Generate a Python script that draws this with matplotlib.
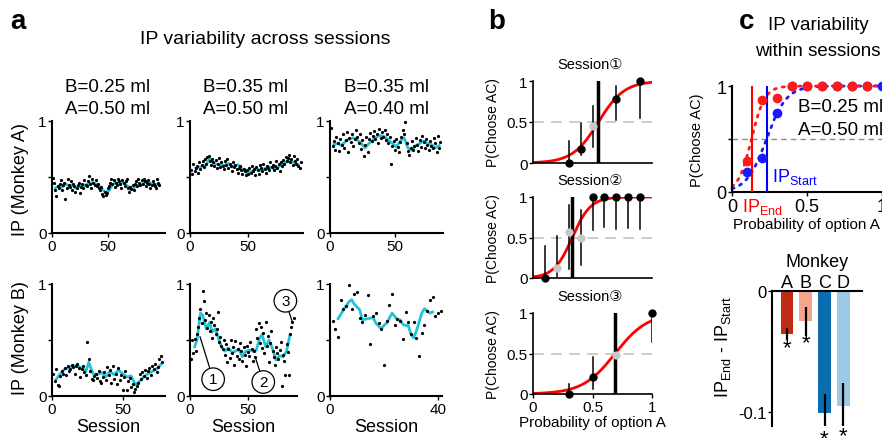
import numpy as np
import matplotlib
matplotlib.use('Agg')
import matplotlib.pyplot as plt

plt.rcParams['font.family'] = ['Liberation Sans', 'DejaVu Sans']
plt.rcParams['mathtext.fontset'] = 'custom'
plt.rcParams['mathtext.rm'] = 'Liberation Sans'
plt.rcParams['mathtext.it'] = 'Liberation Sans:italic'

W, H = 882, 439
CYAN = '#1fc4d8'

# ---------------- panel a: IP per session ----------------
a1_ip = [0.49, 0.45, 0.38, 0.33, 0.42, 0.40, 0.44, 0.47, 0.38, 0.43,
         0.45, 0.30, 0.40, 0.48, 0.43, 0.41, 0.46, 0.38, 0.44, 0.42,
         0.37, 0.40, 0.43, 0.45, 0.36, 0.41, 0.44, 0.40, 0.47, 0.43,
         0.42, 0.46, 0.51, 0.44, 0.40, 0.48, 0.45, 0.43, 0.47, 0.42,
         0.44, 0.40, 0.38, 0.41, 0.35, 0.33, 0.37, 0.34, 0.36, 0.40,
         0.42, 0.45, 0.48, 0.44, 0.47, 0.41, 0.45, 0.43, 0.48, 0.46,
         0.44, 0.40, 0.47, 0.45, 0.42, 0.46, 0.48, 0.40, 0.37, 0.41,
         0.39, 0.43, 0.38, 0.44, 0.46, 0.42, 0.48, 0.45, 0.43, 0.47,
         0.44, 0.48, 0.46, 0.42, 0.45, 0.47, 0.44, 0.40, 0.43, 0.46,
         0.44, 0.42, 0.40, 0.48, 0.45, 0.43]
a1_avg_s = [3, 6, 9, 12, 15, 18, 21, 24, 27, 30, 33, 36, 39, 42, 45, 48,
            51, 54, 57, 60, 63, 66, 69, 72, 75, 78, 81, 84, 87, 90, 93, 96]
a1_avg_v = [0.40, 0.42, 0.41, 0.44, 0.42, 0.43, 0.40, 0.42, 0.41, 0.43, 0.44,
            0.45, 0.44, 0.42, 0.39, 0.36, 0.38, 0.43, 0.45, 0.44, 0.45, 0.43,
            0.41, 0.39, 0.42, 0.43, 0.44, 0.46, 0.45, 0.44, 0.43, 0.43]

a2_ip = [0.56, 0.53, 0.62, 0.55, 0.58, 0.60, 0.54, 0.63, 0.57, 0.61,
         0.64, 0.59, 0.66, 0.62, 0.68, 0.69, 0.64, 0.61, 0.66, 0.63,
         0.60, 0.65, 0.58, 0.62, 0.67, 0.59, 0.63, 0.60, 0.57, 0.64,
         0.61, 0.66, 0.58, 0.62, 0.60, 0.55, 0.63, 0.59, 0.61, 0.57,
         0.54, 0.58, 0.60, 0.56, 0.53, 0.57, 0.55, 0.52, 0.56, 0.53,
         0.58, 0.54, 0.60, 0.55, 0.57, 0.52, 0.59, 0.56, 0.53, 0.61,
         0.58, 0.55, 0.62, 0.57, 0.54, 0.60, 0.58, 0.56, 0.63, 0.59,
         0.61, 0.56, 0.60, 0.64, 0.58, 0.62, 0.55, 0.63, 0.60, 0.65,
         0.62, 0.68, 0.64, 0.67, 0.70, 0.63, 0.66, 0.61, 0.69, 0.64,
         0.62, 0.66, 0.60, 0.58, 0.63]
a2_avg_s = [5, 9, 13, 17, 21, 25, 29, 33, 37, 41, 45, 49,
            53, 57, 61, 65, 69, 73, 77, 81, 85, 89, 93]
a2_avg_v = [0.58, 0.59, 0.60, 0.66, 0.62, 0.61, 0.60, 0.62, 0.59, 0.61, 0.57,
            0.54, 0.55, 0.57, 0.56, 0.58, 0.59, 0.57, 0.60, 0.62, 0.66, 0.63, 0.61]

a3_ip = [0.94, 0.78, 0.82, 0.74, 0.86, 0.80, 0.73, 0.84, 0.79, 0.88,
         0.76, 0.83, 0.90, 0.72, 0.85, 0.81, 0.88, 0.78, 0.84, 0.92,
         0.86, 0.80, 0.88, 0.75, 0.83, 0.69, 0.79, 0.86, 0.72, 0.84,
         0.89, 0.82, 0.87, 0.91, 0.84, 0.88, 0.80, 0.93, 0.85, 0.90,
         0.86, 0.92, 0.83, 0.88, 0.80, 0.86, 0.62, 0.78, 0.82, 0.74,
         0.84, 0.77, 0.72, 0.81, 0.86, 0.92, 0.88, 0.99, 0.80, 0.73,
         0.70, 0.76, 0.82, 0.74, 0.78, 0.85, 0.79, 0.73, 0.83, 0.77,
         0.87, 0.81, 0.76, 0.84, 0.79, 0.74, 0.82, 0.78, 0.76, 0.85,
         0.80, 0.72, 0.87, 0.76, 0.81]
a3_avg_s = [3, 6, 9, 12, 15, 18, 21, 24, 27, 30, 33, 36, 39, 42,
            45, 48, 51, 54, 57, 60, 63, 66, 69, 72, 75, 78, 81, 84]
a3_avg_v = [0.79, 0.80, 0.78, 0.82, 0.84, 0.85, 0.83, 0.80, 0.76, 0.80, 0.83,
            0.86, 0.87, 0.86, 0.83, 0.80, 0.77, 0.82, 0.85, 0.76, 0.74, 0.78,
            0.80, 0.82, 0.80, 0.79, 0.76, 0.78]

b1_ip = [0.20, 0.13, 0.24, 0.10, 0.09, 0.18, 0.22, 0.20, 0.25, 0.19,
         0.27, 0.22, 0.24, 0.28, 0.26, 0.20, 0.27, 0.29, 0.25, 0.17,
         0.24, 0.27, 0.21, 0.19, 0.48, 0.33, 0.22, 0.15, 0.14, 0.18,
         0.20, 0.16, 0.22, 0.13, 0.12, 0.17, 0.21, 0.14, 0.26, 0.19,
         0.23, 0.12, 0.27, 0.15, 0.20, 0.11, 0.25, 0.14, 0.19, 0.05,
         0.17, 0.22, 0.05, 0.13, 0.16, 0.08, 0.11, 0.04, 0.06, 0.09,
         0.12, 0.20, 0.15, 0.21, 0.18, 0.23, 0.16, 0.22, 0.25, 0.19,
         0.27, 0.24, 0.29, 0.21, 0.26, 0.33, 0.36, 0.30]
b1_avg_s = [3, 6, 9, 12, 15, 18, 21, 24, 26, 29, 32, 35, 38,
            41, 44, 47, 50, 53, 56, 59, 62, 65, 68, 71, 74, 77]
b1_avg_v = [0.15, 0.20, 0.24, 0.25, 0.27, 0.27, 0.25, 0.22, 0.30, 0.20, 0.19,
            0.21, 0.17, 0.22, 0.19, 0.23, 0.20, 0.17, 0.18, 0.10, 0.13, 0.17,
            0.20, 0.22, 0.24, 0.28]

b2_ip = [0.33, 0.50, 0.38, 0.51, 0.40, 0.55, 0.62, 0.70, 0.78, 0.65,
         0.94, 0.85, 0.68, 0.74, 0.61, 0.72, 0.58, 0.66, 0.52, 0.70,
         0.63, 0.55, 0.60, 0.75, 0.48, 0.53, 0.45, 0.42, 0.50, 0.37,
         0.46, 0.30, 0.42, 0.34, 0.50, 0.38, 0.44, 0.28, 0.49, 0.36,
         0.42, 0.33, 0.47, 0.40, 0.31, 0.44, 0.37, 0.27, 0.45, 0.39,
         0.36, 0.48, 0.42, 0.31, 0.40, 0.35, 0.60, 0.52, 0.65, 0.47,
         0.62, 0.43, 0.56, 0.38, 0.66, 0.45, 0.54, 0.30, 0.47, 0.58,
         0.40, 0.35, 0.28, 0.44, 0.38, 0.33, 0.41, 0.48, 0.09, 0.37,
         0.31, 0.19, 0.46, 0.39, 0.19, 0.55, 0.62, 0.66, 0.70]
b2_avg_s = [4, 6, 9, 11, 14, 17, 19, 22, 25, 27, 30, 33, 36, 39, 42,
            45, 48, 51, 54, 57, 60, 62, 65, 68, 71, 74, 77, 80, 83, 86]
b2_avg_v = [0.44, 0.50, 0.74, 0.72, 0.60, 0.66, 0.57, 0.60, 0.50, 0.44, 0.40,
            0.43, 0.39, 0.40, 0.42, 0.35, 0.40, 0.41, 0.40, 0.41, 0.52, 0.55,
            0.44, 0.50, 0.42, 0.32, 0.36, 0.35, 0.40, 0.55]

b3_ip = [0.67, 0.60, 0.53, 0.86, 0.78, 0.80, 0.99, 0.78, 0.91, 0.93,
         0.70, 0.66, 0.72, 0.90, 0.46, 0.71, 0.74, 0.65, 0.60, 0.28,
         0.67, 0.81, 0.91, 0.63, 0.69, 0.67, 0.51, 0.75, 0.66, 0.55,
         0.66, 0.52, 0.36, 0.56, 0.63, 0.76, 0.86, 0.88, 0.71, 0.74, 0.76]
b3_avg_s = [3, 5, 7, 8, 9, 11, 12, 14, 16, 17, 19, 20, 21, 23,
            24, 25, 26, 27, 28, 29, 30, 31, 32, 33, 34, 35, 36, 37, 38]
b3_avg_v = [0.69, 0.77, 0.84, 0.86, 0.82, 0.77, 0.68, 0.69, 0.70, 0.65, 0.60,
            0.63, 0.65, 0.74, 0.71, 0.68, 0.68, 0.64, 0.63, 0.63, 0.55, 0.52,
            0.58, 0.66, 0.74, 0.78, 0.76, 0.74, 0.75]

# ---------------- panel b: psychometric curves ----------------
pb_x = [[0.3, 0.4, 0.5, 0.7, 0.9],
        [0.1, 0.2, 0.3, 0.4, 0.5, 0.6, 0.7, 0.8, 0.9],
        [0.3, 0.5, 0.7, 1.0]]
pb_y = [[0.0, 0.17, 0.45, 0.78, 1.0],
        [0.0, 0.12, 0.57, 0.50, 1.0, 1.0, 1.0, 1.0, 1.0],
        [0.0, 0.21, 0.48, 1.0]]
pb_lo = [[0.0, 0.10, 0.20, 0.52, 0.55],
         [0.0, 0.0, 0.11, 0.16, 0.59, 0.63, 0.60, 0.62, 0.60],
         [0.0, 0.06, 0.25, 0.64]]
pb_hi = [[0.27, 0.49, 0.69, 0.94, 1.0],
         [0.40, 0.52, 0.90, 0.84, 1.0, 1.0, 1.0, 1.0, 1.0],
         [0.12, 0.46, 0.72, 1.0]]
pb_gray = [[0, 0, 1, 0, 0],
           [0, 1, 1, 1, 0, 0, 0, 0, 0],
           [0, 0, 1, 0]]
pb_ip = [0.55, 0.33, 0.69]
pb_slope = [9.2, 13.0, 7.3]
pb_titles = ['Session\u2460', 'Session\u2461', 'Session\u2462']

# ---------------- panel c ----------------
c_x_end = [0.1, 0.2, 0.3, 0.4, 0.5, 0.6, 0.7, 0.8, 0.9]
c_y_end = [0.29, 0.87, 0.89, 1.0, 1.0, 1.0, 1.0, 1.0, 1.0]
c_x_start = [0.1, 0.2, 0.3, 0.4, 0.5, 0.6, 0.7, 0.8, 0.9, 1.0]
c_y_start = [0.19, 0.32, 0.75, 1.0, 1.0, 1.0, 1.0, 1.0, 1.0, 1.0]
ip_end, slope_end = 0.13, 22.6
ip_start, slope_start = 0.23, 15.0

monkeys = ['A', 'B', 'C', 'D']
ip_shift = [-0.036, -0.025, -0.101, -0.095]
ip_shift_err = [0.005, 0.012, 0.0155, 0.019]
bar_colors = ['#bf2b14', '#f3a68a', '#0c6cb0', '#9ccae4']


def rect(x0, y0, x1, y1):
    return [x0 / W, 1 - y1 / H, (x1 - x0) / W, (y1 - y0) / H]


def ftext(x, y, s, **kw):
    kw.setdefault('ha', 'center')
    kw.setdefault('va', 'center')
    fig.text(x / W, 1 - y / H, s, **kw)


def clean(ax, lw=1.5):
    ax.spines['top'].set_visible(False)
    ax.spines['right'].set_visible(False)
    ax.spines['left'].set_linewidth(lw)
    ax.spines['bottom'].set_linewidth(lw)
    ax.patch.set_alpha(0)


def logistic(x, ip, k):
    return 1 / (1 + np.exp(-k * (x - ip)))


fig = plt.figure(figsize=(W / 100, H / 100), dpi=100)

# ---- panel a ----
a_panels = [
    (a1_ip, a1_avg_s, a1_avg_v, (52, 122, 165, 234), 101, 50),
    (a2_ip, a2_avg_s, a2_avg_v, (190, 122, 303, 234), 97, 50),
    (a3_ip, a3_avg_s, a3_avg_v, (330, 122, 443, 234), 87, 50),
    (b1_ip, b1_avg_s, b1_avg_v, (52, 285, 165, 397), 80, 50),
    (b2_ip, b2_avg_s, b2_avg_v, (190, 285, 297, 397), 92, 50),
    (b3_ip, b3_avg_s, b3_avg_v, (330, 285, 442, 397), 41.5, 40),
]
a_axes = []
for ip, avs, avv, box, xmax, xt in a_panels:
    ax = fig.add_axes(rect(*box))
    clean(ax)
    sess = np.arange(1, len(ip) + 1)
    ax.plot(sess, ip, 'o', ms=2.3, color='k', mec='none', zorder=3, clip_on=False)
    ax.plot(avs, avv, color=CYAN, lw=2, zorder=2)
    ax.set_xlim(0, xmax)
    ax.set_ylim(0, 1)
    ax.set_xticks([0, xt])
    ax.set_yticks([0, 0.5, 1])
    ax.set_yticklabels(['0', '', '1'])
    ax.tick_params(direction='out', length=3, width=1, labelsize=11, pad=1)
    a_axes.append(ax)

ftext(18, 22, 'a', fontsize=20, fontweight='bold')
ftext(265, 40, 'IP variability across sessions', fontsize=14)
for cx, b_txt, a_txt in [(108, 'B=0.25 ml', 'A=0.50 ml'),
                         (246, 'B=0.35 ml', 'A=0.50 ml'),
                         (386, 'B=0.35 ml', 'A=0.40 ml')]:
    ftext(cx, 88, b_txt, fontsize=13.5)
    ftext(cx, 110, a_txt, fontsize=13.5)
ftext(21, 180, 'IP (Monkey A)', fontsize=13, rotation=90)
ftext(21, 338, 'IP (Monkey B)', fontsize=13, rotation=90)
for cx in [108, 243, 386]:
    ftext(cx, 428, 'Session', fontsize=13)

# circled session markers
axm = a_axes[4]
circ = dict(boxstyle='circle,pad=0.28', fc='white', ec='k', lw=0.9)
for lab, txy, pxy in [('1', (19.9, 0.15), (8.6, 0.53)),
                      ('2', (63.0, 0.125), (56.0, 0.35)),
                      ('3', (82.0, 0.85), (88.0, 0.66))]:
    axm.annotate(lab, xy=pxy, xytext=txy, fontsize=11, ha='center', va='center',
                 bbox=circ, arrowprops=dict(arrowstyle='-', color='k', lw=0.9,
                                            shrinkA=0, shrinkB=0),
                 annotation_clip=False, zorder=5)

# ---- panel b ----
ftext(497, 22, 'b', fontsize=20, fontweight='bold')
b_boxes = [(533, 82, 652, 164), (533, 198, 652, 279), (533, 314, 652, 395)]
xs = np.linspace(0, 1, 200)
for i, box in enumerate(b_boxes):
    ax = fig.add_axes(rect(*box))
    clean(ax, lw=1.2)
    ax.plot([0, 1], [0.5, 0.5], color='#c8c8c8', lw=1.3, dashes=(6, 4), zorder=1)
    ax.plot(xs, logistic(xs, pb_ip[i], pb_slope[i]), color='#ff0000', lw=2, zorder=2)
    for x, y, lo, hi, g in zip(pb_x[i], pb_y[i], pb_lo[i], pb_hi[i], pb_gray[i]):
        ax.plot([x, x], [lo, hi], color='k', lw=1.1, zorder=3)
        ax.plot(x, y, 'o', ms=6, color='#c8c8c8' if g else 'k', mec='none',
                zorder=5, clip_on=False)
    ax.plot([pb_ip[i], pb_ip[i]], [0, 1], color='k', lw=2.5, zorder=4)
    ax.set_xlim(0, 1)
    ax.set_ylim(0, 1)
    ax.set_yticks([0, 0.5, 1])
    ax.set_yticklabels(['0', '0.5', '1'])
    if i < 2:
        ax.set_xticks([])
    else:
        ax.set_xticks([0, 0.5, 1])
        ax.set_xticklabels(['0', '0.5', '1'])
    ax.tick_params(direction='out', length=3, width=1, labelsize=11, pad=1)
    cy = (box[1] + box[3]) / 2
    ftext(493, cy, 'P(Choose AC)', fontsize=10, rotation=90)
    ftext(590, box[1] - 17, pb_titles[i], fontsize=10.5)
ftext(592, 423, 'Probability of option A', fontsize=11)

# ---- panel c, top ----
ftext(747, 22, 'c', fontsize=20, fontweight='bold')
ftext(818, 25, 'IP variability', fontsize=13.5)
ftext(818, 52, 'within sessions', fontsize=13.5)

ax = fig.add_axes(rect(732, 87, 882, 193))
clean(ax)
ax.plot([0, 1], [0.5, 0.5], color='#8c8c8c', lw=1, dashes=(4, 3), zorder=1)
ax.plot(xs, logistic(xs, ip_start, slope_start), color='#1a1aff', lw=2,
        linestyle=(0, (0.8, 2.2)), dash_capstyle='round', zorder=2, clip_on=False)
ax.plot(xs, logistic(xs, ip_end, slope_end), color='#ff1a1a', lw=2,
        linestyle=(0, (0.8, 2.2)), dash_capstyle='round', zorder=2, clip_on=False)
ax.plot([ip_end, ip_end], [0, 1], color='#ff0000', lw=1.5, zorder=3)
ax.plot([ip_start, ip_start], [0, 1], color='#0000ff', lw=1.5, zorder=3)
ax.plot(c_x_start, c_y_start, 'o', ms=7, color='#1a1aff', mec='none', zorder=4, clip_on=False)
ax.plot(c_x_end, c_y_end, 'o', ms=7, color='#ff1a1a', mec='none', zorder=5, clip_on=False)
ax.set_xlim(0, 1)
ax.set_ylim(0, 1)
ax.set_xticks([0, 0.5, 1])
ax.set_xticklabels(['0', '0.5', '1'])
ax.set_yticks([0, 0.5, 1])
ax.set_yticklabels(['0', '', '1'])
ax.tick_params(direction='out', length=3, width=1, labelsize=13, pad=1)
ax.text(0.44, 0.81, 'B=0.25 ml', fontsize=13.5, va='center', clip_on=False)
ax.text(0.44, 0.59, 'A=0.50 ml', fontsize=13.5, va='center', clip_on=False)
ax.text(0.265, 0.15, r'IP$_{\mathrm{Start}}$', color='#0000ff', fontsize=13, va='center')
ax.text(0.065, -0.13, r'IP$_{\mathrm{End}}$', color='#ff0000', fontsize=13,
        va='center', clip_on=False)
ftext(806, 225, 'Probability of option A', fontsize=11)
ftext(697, 140, 'P(Choose AC)', fontsize=10.5, rotation=90)

# ---- panel c, bottom ----
ax = fig.add_axes(rect(772, 292, 862, 427))
ax.spines['bottom'].set_visible(False)
ax.spines['right'].set_visible(False)
ax.spines['left'].set_linewidth(1.5)
ax.spines['top'].set_linewidth(1.5)
ax.patch.set_alpha(0)
pos = np.arange(1, len(monkeys) + 1)
ax.bar(pos, ip_shift, width=0.68, color=bar_colors, zorder=2)
ax.errorbar(pos, ip_shift, yerr=ip_shift_err, fmt='none', ecolor='k',
            elinewidth=1.6, capsize=0, zorder=3)
for p, v, e in zip(pos, ip_shift, ip_shift_err):
    ax.text(p, v - e + 0.0025, '*', fontsize=16, ha='center', va='top',
            clip_on=False)
ax.set_xlim(0.2, 5.0)
ax.set_ylim(-0.112, 0)
ax.xaxis.tick_top()
ax.set_xticks(pos)
ax.set_xticklabels(monkeys)
ax.tick_params(axis='x', length=0, labelsize=13, pad=0)
ax.set_yticks([0, -0.1])
ax.set_yticklabels(['0', '-0.1'])
ax.tick_params(axis='y', direction='out', length=3, width=1, labelsize=12, pad=1)
ftext(817, 263, 'Monkey', fontsize=13)
ftext(723, 347, r'IP$_{\mathrm{End}}$ - IP$_{\mathrm{Start}}$', fontsize=13, rotation=90)

fig.savefig('out.png', dpi=100)
